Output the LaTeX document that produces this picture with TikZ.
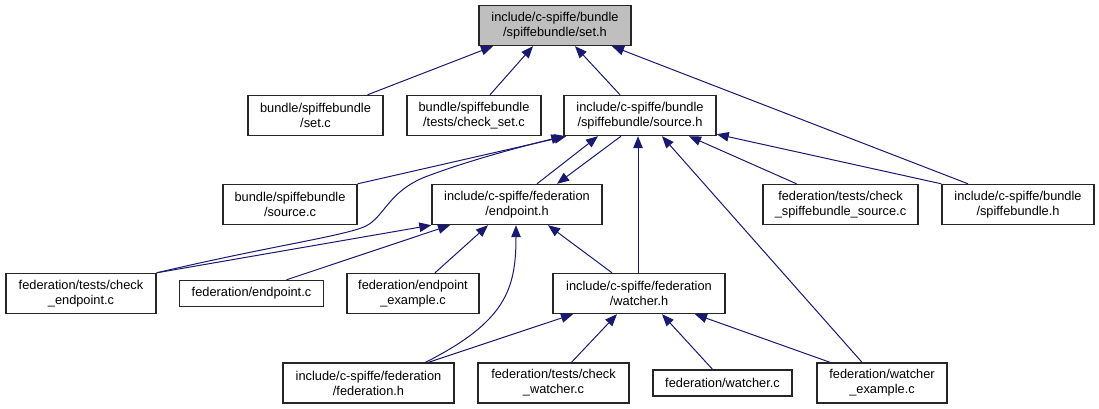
\documentclass[tikz,border=0pt]{standalone}
\usepackage{fontspec}
\setmainfont{Liberation Sans}
\usepackage{xcolor}
\usetikzlibrary{arrows.meta,positioning}
\definecolor{edgeblue}{RGB}{25,25,112}
\definecolor{rootgray}{RGB}{191,191,191}

\begin{document}
\begin{tikzpicture}[
        x=1pt, y=-1pt,
        file/.style={draw=black!85, line width=1.4pt, minimum width=#1, minimum height=40pt, inner sep=0pt, align=center, font=\fontsize{12.8}{15}\selectfont},
        file/.default=150pt,
        root/.style={file=152pt, fill=rootgray},
        single/.style={file=#1, minimum height=26pt},
        dep/.style={-{Triangle[length=12pt,width=9.5pt]}, draw=edgeblue, line width=1pt}
    ]
        \useasboundingbox (0,0) rectangle (1099,409);

        % Root
        \node[root] (seth) at (555,25.5) {include/c-spiffe/bundle\\/spiffebundle/set.h};

        % Row 1
        \node[file=135pt] (setc) at (315.5,115.5) {bundle/spiffebundle\\/set.c};
        \node[file=134pt] (checkset) at (474,115.5) {bundle/spiffebundle\\/tests/check\_set.c};
        \node[file=152pt] (sourceh) at (640,115.5) {include/c-spiffe/bundle\\/spiffebundle/source.h};

        % Row 2
        \node[file=134pt] (sourcec) at (290,204.5) {bundle/spiffebundle\\/source.c};
        \node[file=170pt] (endpointh) at (517,204.5) {include/c-spiffe/federation\\/endpoint.h};
        \node[file=155pt] (checksbsource) at (840.5,204.5) {federation/tests/check\\\_spiffebundle\_source.c};
        \node[file=152pt] (bundleh) at (1018,204.5) {include/c-spiffe/bundle\\/spiffebundle.h};

        % Row 3
        \node[file=150pt] (checkendpoint) at (81,293.5) {federation/tests/check\\\_endpoint.c};
        \node[single=144pt] (endpointc) at (251.5,293.5) {federation/endpoint.c};
        \node[file=132pt] (endpointex) at (413,293.5) {federation/endpoint\\\_example.c};
        \node[file=172pt] (watcherh) at (639,293.5) {include/c-spiffe/federation\\/watcher.h};

        % Row 4
        \node[file=171pt] (federationh) at (368.5,383) {include/c-spiffe/federation\\/federation.h};
        \node[file=151pt] (checkwatcher) at (553.5,383) {federation/tests/check\\\_watcher.c};
        \node[single=139pt] (watcherc) at (722.5,383) {federation/watcher.c};
        \node[file=130pt] (watcherex) at (882,383) {federation/watcher\\\_example.c};

        % Arrows into set.h
        \draw[dep] ([xshift=52pt]setc.north) -- ([xshift=-62pt]seth.south);
        \draw[dep] ([xshift=16pt]checkset.north) -- ([xshift=-22pt]seth.south);
        \draw[dep] ([xshift=-20pt]sourceh.north) -- ([xshift=20pt]seth.south);
        \draw[dep] ([xshift=-50pt]bundleh.north) -- ([xshift=57pt]seth.south);

        % Arrows into source.h
        \draw[dep] (sourcec.north east) -- ([xshift=3pt]sourceh.south west);
        \draw[dep] (checkendpoint.north east) .. controls (270,246) and (345,236) .. (366,226)
            .. controls (385,216) and (388,192) .. (425,177)
            .. controls (470,160) and (520,147) .. (sourceh.south west);
        \draw[dep] ([xshift=20pt]endpointh.north) -- ([xshift=-42pt]sourceh.south);
        \draw[dep] ([xshift=-1pt]watcherh.north) -- ([xshift=-2pt]sourceh.south);
        \draw[dep] ([xshift=-20pt]watcherex.north) -- ([xshift=22pt]sourceh.south);
        \draw[dep] ([xshift=-44pt]checksbsource.north) -- ([xshift=49pt]sourceh.south);
        \draw[dep] (bundleh.north west) -- ([yshift=2pt]sourceh.south east);

        % Arrows into endpoint.h
        \draw[dep] ([xshift=-19pt]sourceh.south) -- ([xshift=40pt]endpointh.north);
        \draw[dep] (checkendpoint.north east) -- (endpointh.south west);
        \draw[dep] ([xshift=35pt]endpointc.north) -- ([xshift=-67pt]endpointh.south);
        \draw[dep] ([xshift=22pt]endpointex.north) -- ([xshift=-29pt]endpointh.south);
        \draw[dep] ([xshift=57pt]federationh.north) .. controls (505,322) and (516,290) .. ([xshift=-1pt]endpointh.south);
        \draw[dep] ([xshift=-27pt]watcherh.north) -- ([xshift=31pt]endpointh.south);

        % Arrows into watcher.h
        \draw[dep] ([xshift=60pt]federationh.north) -- ([xshift=-66pt]watcherh.south);
        \draw[dep] ([xshift=18pt]checkwatcher.north) -- ([xshift=-22pt]watcherh.south);
        \draw[dep] ([xshift=-10pt]watcherc.north) -- ([xshift=23pt]watcherh.south);
        \draw[dep] ([xshift=-52pt]watcherex.north) -- ([xshift=56pt]watcherh.south);

    \end{tikzpicture}
\end{document}
